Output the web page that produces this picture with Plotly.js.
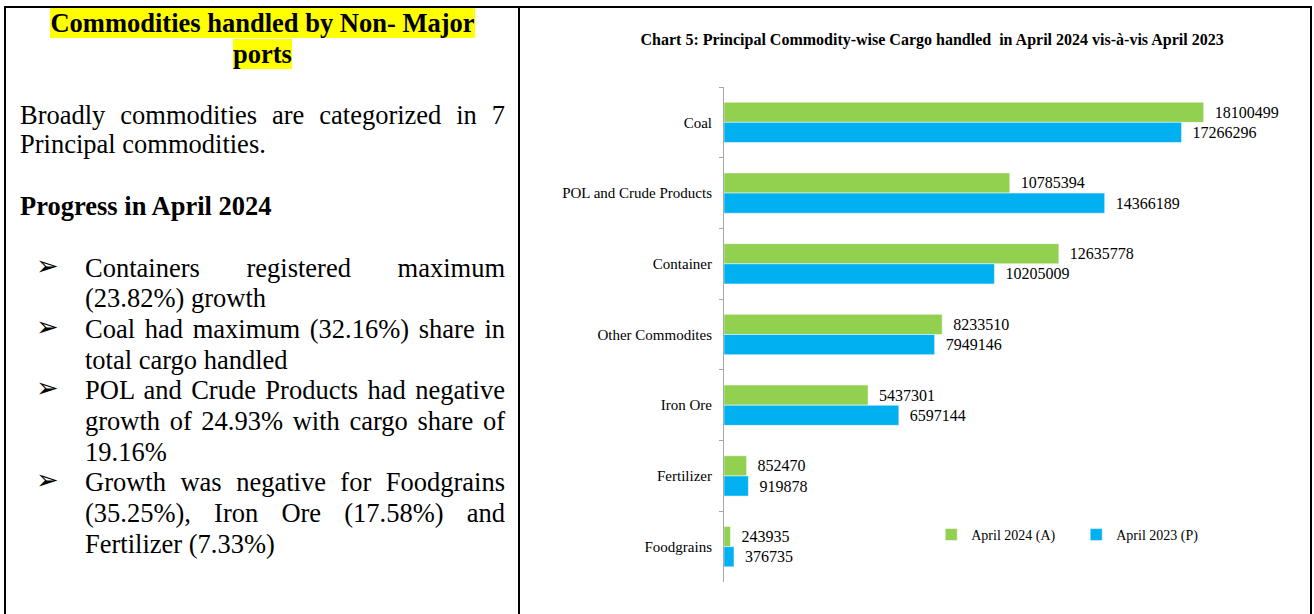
<!DOCTYPE html>
<html>
<head>
<meta charset="utf-8">
<script src="https://cdn.plot.ly/plotly-3.0.1.min.js"></script>
<style>
  body { margin: 0; width: 1314px; height: 614px; position: relative; overflow: hidden; background: #fff;
         font-family: "Liberation Serif", "Times New Roman", serif; color: #000; }
  .rule { position: absolute; background: #000; }
  .ln { position: absolute; font-size: 26.5px; line-height: 30.7px; white-space: nowrap; }
  .j { text-align: justify; text-align-last: justify; white-space: normal; }
  .b { font-weight: bold; }
  .hl { background: #ffff00; }
  .arrow { position: absolute; font-family: "DejaVu Sans", sans-serif; font-size: 27px; line-height: 30.7px; }
  #plot { position: absolute; left: 521px; top: 8px; width: 789px; height: 606px; }
</style>
</head>
<body>
<!-- table borders -->
<div class="rule" style="left:4px; top:6px; width:1308px; height:2px;"></div>
<div class="rule" style="left:4px; top:6px; width:2px; height:608px;"></div>
<div class="rule" style="left:518px; top:6px; width:2px; height:608px;"></div>
<div class="rule" style="left:1310px; top:6px; width:2px; height:608px;"></div>

<!-- left cell -->
<div class="ln b" style="left:6px; top:8px; width:513px; text-align:center;"><span class="hl">Commodities handled by Non- Major</span><br><span class="hl">ports</span></div>

<div class="ln j" style="left:20px; top:99.5px; width:485px;">Broadly commodities are categorized in 7</div>
<div class="ln" style="left:20px; top:129px;">Principal commodities.</div>

<div class="ln b" style="left:20px; top:190.5px;">Progress in April 2024</div>

<div id="bullets"></div>

<div id="plot"></div>

<script>
// bullet text, one entry per printed line: [text, justified, starts a bullet]
const bulletLines = [
  ["Containers registered maximum", true, true],
  ["(23.82%) growth", false, false],
  ["Coal had maximum (32.16%) share in", true, true],
  ["total cargo handled", false, false],
  ["POL and Crude Products had negative", true, true],
  ["growth of 24.93% with cargo share of", true, false],
  ["19.16%", false, false],
  ["Growth was negative for Foodgrains", true, true],
  ["(35.25%), Iron Ore (17.58%) and", true, false],
  ["Fertilizer (7.33%)", false, false]
];

let bullets = document.getElementById("bullets");
bulletLines.forEach((line, i) => {
    let top = 252.5 + i * 30.7;
    let div = document.createElement("div");
    div.className = line[1] ? "ln j" : "ln";
    div.style.left = "85px";
    div.style.top = top + "px";
    if (line[1]) div.style.width = "420px";
    div.textContent = line[0];
    bullets.appendChild(div);
    if (line[2]) {
        let arrow = document.createElement("div");
        arrow.className = "arrow";
        arrow.style.left = "36px";
        arrow.style.top = (top - 2) + "px";
        arrow.textContent = "\u27A2";
        bullets.appendChild(arrow);
    }
});

// chart data
const categories = ["Coal", "POL and Crude Products", "Container", "Other Commodites", "Iron Ore", "Fertilizer", "Foodgrains"];
const april2024 = [18100499, 10785394, 12635778, 8233510, 5437301, 852470, 243935];
const april2023 = [17266296, 14366189, 10205009, 7949146, 6597144, 919878, 376735];

const serif = "Liberation Serif, Times New Roman, serif";

function barTrace(name, values, color) {
    return {
        type: "bar",
        orientation: "h",
        name: name,
        y: categories,
        x: values,
        marker: { color: color, line: { color: "rgba(255,255,255,0.5)", width: 1 } },
        texttemplate: "  %{x:d}",
        textposition: "outside",
        constraintext: "none",
        cliponaxis: false,
        textfont: { family: serif, size: 16, color: "#000" }
    };
}

let layout = {
    width: 789,
    height: 606,
    margin: { l: 203, r: 56, t: 79, b: 32 },
    paper_bgcolor: "#fff",
    plot_bgcolor: "#fff",
    barmode: "group",
    bargap: 0.43,
    bargroupgap: 0,
    title: {
        text: "<b>Chart 5: Principal Commodity-wise Cargo handled  in April 2024 vis-à-vis April 2023</b>",
        font: { family: serif, size: 16, color: "#000" },
        xref: "container", yref: "container",
        x: 0.521, y: 0.949, xanchor: "center", yanchor: "middle"
    },
    xaxis: {
        range: [0, 20000000],
        showgrid: false, zeroline: false, showline: false, showticklabels: false, ticks: ""
    },
    yaxis: {
        autorange: "reversed",
        showgrid: false, zeroline: false,
        showline: true, linecolor: "#a6a6a6", linewidth: 1,
        ticks: "outside", tickson: "boundaries", ticklen: 4, tickcolor: "#a6a6a6",
        ticklabelstandoff: 8,
        tickfont: { family: serif, size: 15, color: "#000" }
    },
    legend: {
        orientation: "h",
        x: 0.391, y: 0.095, xanchor: "left", yanchor: "middle",
        entrywidth: 100, entrywidthmode: "pixels",
        itemwidth: 30,
        font: { family: serif, size: 14, color: "#000" },
        bgcolor: "rgba(0,0,0,0)"
    },
    showlegend: true
};

Plotly.newPlot("plot", [barTrace("April 2024 (A)", april2024, "#92D050"), barTrace("April 2023 (P)", april2023, "#00B0F0")],
    layout, { staticPlot: true, displayModeBar: false });
</script>
</body>
</html>
